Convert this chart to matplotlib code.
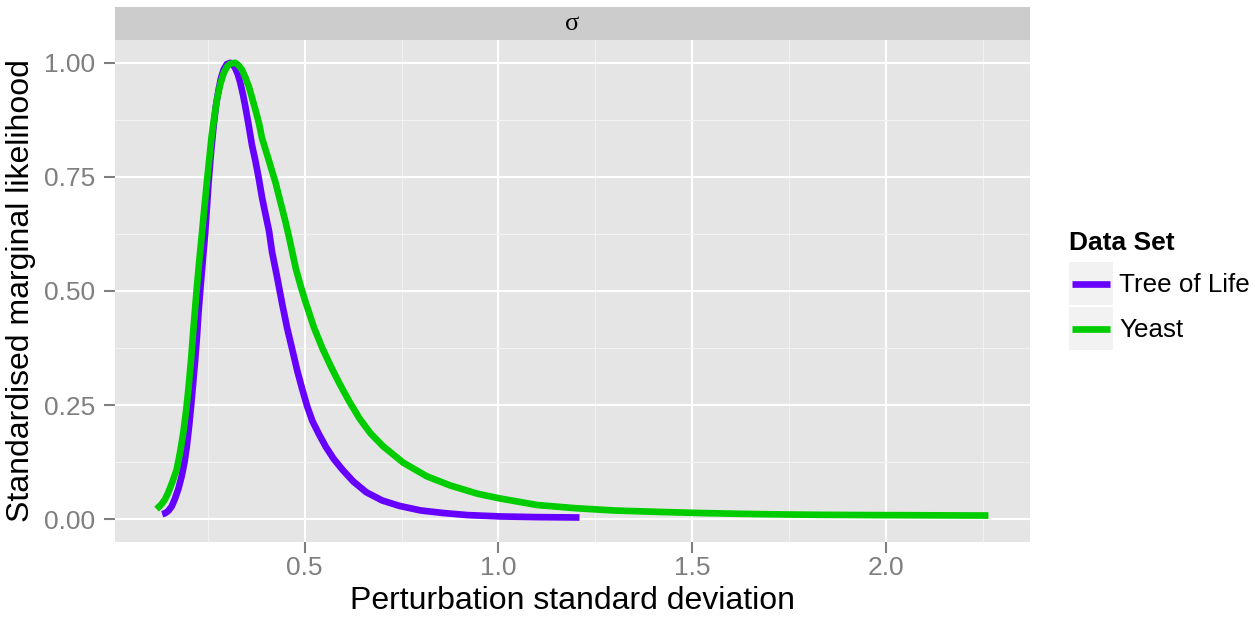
import matplotlib
matplotlib.use("Agg")
import matplotlib.pyplot as plt
from matplotlib.lines import Line2D
from matplotlib.patches import Rectangle
from matplotlib.legend_handler import HandlerBase
from matplotlib.ticker import FixedLocator

# ---- data ----
series_names = ["Tree of Life", "Yeast"]
series_colors = ["#6600FF", "#00CC00"]

tol_x = [0.1325, 0.140, 0.148, 0.157, 0.165, 0.174, 0.183, 0.190, 0.196, 0.202,
         0.207, 0.212, 0.217, 0.222, 0.226, 0.232, 0.238, 0.2433, 0.248, 0.252,
         0.258, 0.265, 0.271, 0.278, 0.284, 0.291, 0.299, 0.308, 0.315, 0.321,
         0.328, 0.334, 0.341, 0.347, 0.355, 0.364, 0.373, 0.382, 0.390, 0.399,
         0.408, 0.416, 0.429, 0.442, 0.455, 0.468, 0.481, 0.494, 0.507, 0.520,
         0.537, 0.555, 0.575, 0.598, 0.625, 0.659, 0.700, 0.745, 0.800, 0.858,
         0.920, 1.005, 1.100, 1.209]
tol_y = [0.011, 0.013, 0.018, 0.028, 0.044, 0.066, 0.095, 0.125, 0.160, 0.205,
         0.248, 0.295, 0.343, 0.398, 0.452, 0.515, 0.575, 0.627, 0.685, 0.737,
         0.800, 0.861, 0.905, 0.941, 0.966, 0.985, 0.997, 1.000, 0.996, 0.988,
         0.974, 0.956, 0.930, 0.904, 0.866, 0.820, 0.785, 0.745, 0.705, 0.668,
         0.632, 0.585, 0.530, 0.472, 0.418, 0.372, 0.325, 0.284, 0.246, 0.215,
         0.186, 0.158, 0.132, 0.108, 0.083, 0.059, 0.041, 0.029, 0.019, 0.0135,
         0.009, 0.006, 0.0045, 0.0037]

yeast_x = [0.118, 0.124, 0.131, 0.140, 0.148, 0.158, 0.170, 0.179, 0.187, 0.194,
           0.200, 0.207, 0.213, 0.2216, 0.228, 0.2346, 0.241, 0.2476, 0.254, 0.260,
           0.267, 0.2736, 0.282, 0.291, 0.300, 0.308, 0.321, 0.330, 0.338, 0.347,
           0.356, 0.364, 0.373, 0.382, 0.390, 0.408, 0.425, 0.442, 0.451, 0.460,
           0.477, 0.490, 0.503, 0.524, 0.546, 0.568, 0.590, 0.615, 0.642, 0.670,
           0.702, 0.754, 0.815, 0.875, 0.945, 1.000, 1.100, 1.200, 1.300, 1.411,
           1.520, 1.626, 1.740, 1.840, 1.950, 2.055, 2.160, 2.264]
yeast_y = [0.022, 0.027, 0.033, 0.044, 0.058, 0.080, 0.109, 0.148, 0.190, 0.236,
           0.284, 0.350, 0.416, 0.505, 0.565, 0.622, 0.680, 0.737, 0.790, 0.839,
           0.882, 0.919, 0.952, 0.977, 0.992, 0.998, 1.000, 0.994, 0.985, 0.968,
           0.948, 0.924, 0.897, 0.868, 0.835, 0.785, 0.737, 0.680, 0.650, 0.617,
           0.550, 0.510, 0.474, 0.420, 0.374, 0.334, 0.297, 0.258, 0.220, 0.188,
           0.160, 0.124, 0.094, 0.074, 0.056, 0.046, 0.031, 0.024, 0.019, 0.016,
           0.0135, 0.0117, 0.0103, 0.0095, 0.009, 0.0087, 0.0083, 0.008]

x_ticks = [0.5, 1.0, 1.5, 2.0]
x_tick_labels = ["0.5", "1.0", "1.5", "2.0"]
y_ticks = [0.0, 0.25, 0.5, 0.75, 1.0]
y_tick_labels = ["0.00", "0.25", "0.50", "0.75", "1.00"]
x_minor = [0.25, 0.75, 1.25, 1.75, 2.25]
y_minor = [0.125, 0.375, 0.625, 0.875]

strip_label = "σ"
x_label = "Perturbation standard deviation"
y_label = "Standardised marginal likelihood"
legend_title = "Data Set"

# ---- figure ----
plt.rcParams['font.family'] = ['Liberation Sans', 'DejaVu Sans']
W, H = 1255, 619
fig = plt.figure(figsize=(W / 100, H / 100), dpi=100)

pl, pr, pt, pb = 115, 1030, 40, 542
ax = fig.add_axes([pl / W, 1 - pb / H, (pr - pl) / W, (pb - pt) / H])
ax.set_facecolor("#E5E5E5")
for s in ax.spines.values():
    s.set_visible(False)

lw = 4.8
ax.plot(tol_x, tol_y, color=series_colors[0], lw=lw, solid_capstyle="butt",
        solid_joinstyle="round", label=series_names[0], zorder=3)
ax.plot(yeast_x, yeast_y, color=series_colors[1], lw=lw, solid_capstyle="butt",
        solid_joinstyle="round", label=series_names[1], zorder=3)

xmin = min(min(tol_x), min(yeast_x)); xmax = max(max(tol_x), max(yeast_x))
span = xmax - xmin
ax.set_xlim(xmin - 0.05 * span, xmax + 0.05 * span)
ax.set_ylim(-0.05, 1.05)

ax.set_xticks(x_ticks)
ax.set_xticklabels(x_tick_labels)
ax.set_yticks(y_ticks)
ax.set_yticklabels(y_tick_labels)
ax.xaxis.set_minor_locator(FixedLocator(x_minor))
ax.yaxis.set_minor_locator(FixedLocator(y_minor))
ax.tick_params(axis="both", which="major", length=7.8, width=1.5, color="#7F7F7F",
               labelcolor="#7F7F7F", labelsize=19)
ax.tick_params(axis="x", which="major", pad=2.5)
ax.tick_params(axis="y", which="major", pad=6.5)
ax.tick_params(axis="both", which="minor", length=0)
ax.grid(which="major", color="white", lw=1.5, zorder=0)
ax.grid(which="minor", color="#F2F2F2", lw=0.8, zorder=0)
ax.set_axisbelow(True)

ax.set_xlabel(x_label, fontsize=23, color="black", labelpad=4)
ax.set_ylabel(y_label, fontsize=23, color="black", labelpad=6)

# strip
sax = fig.add_axes([pl / W, 1 - pt / H, (pr - pl) / W, 33 / H])
sax.set_facecolor("#CCCCCC")
sax.set_xticks([]); sax.set_yticks([])
for s in sax.spines.values():
    s.set_visible(False)
sax.text(0.5, 0.5, strip_label, ha="center", va="center", fontsize=19,
         family=["Liberation Serif", "DejaVu Serif"], transform=sax.transAxes)


class KeyHandler(HandlerBase):
    def create_artists(self, legend, orig_handle, xdescent, ydescent, width,
                       height, fontsize, trans):
        bg = Rectangle((-xdescent, -ydescent), width, height, fc="#F2F2F2",
                       ec="none", transform=trans)
        m = 0.06 * width
        ln = Line2D([-xdescent + m, -xdescent + width - m],
                    [-ydescent + height / 2] * 2, color=orig_handle.get_color(),
                    lw=lw, solid_capstyle="butt", transform=trans)
        return [bg, ln]


handles = ax.get_lines()
leg = fig.legend(handles=handles, labels=series_names, title=legend_title,
                 loc="upper left", bbox_to_anchor=(1069 / W, 1 - 231 / H),
                 frameon=False, fontsize=18.7, title_fontsize=19,
                 handler_map={Line2D: KeyHandler()},
                 handlelength=1.68, handleheight=2.17, labelspacing=0.08,
                 handletextpad=0.25, borderpad=0, borderaxespad=0,
                 alignment="left")
leg.get_title().set_fontweight("bold")
# extra space between legend title and keys (as in the reference)
leg._legend_box.sep = 5.1

fig.savefig("out.png", dpi=100)
